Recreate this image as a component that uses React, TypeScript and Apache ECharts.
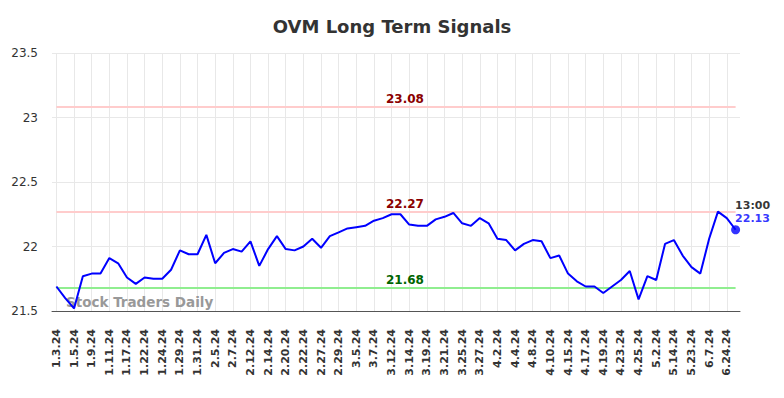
import React, { useEffect, useRef } from "react";
import * as echarts from "echarts";

const titleText = "OVM Long Term Signals";
const watermark = "Stock Traders Daily";

const dates: string[] = [
  "1.3.24", "1.4.24", "1.5.24", "1.8.24", "1.9.24", "1.10.24", "1.11.24", "1.16.24",
  "1.17.24", "1.18.24", "1.22.24", "1.23.24", "1.24.24", "1.26.24", "1.29.24", "1.30.24",
  "1.31.24", "2.1.24", "2.5.24", "2.6.24", "2.7.24", "2.9.24", "2.12.24", "2.13.24",
  "2.14.24", "2.16.24", "2.20.24", "2.21.24", "2.22.24", "2.26.24", "2.27.24", "2.28.24",
  "2.29.24", "3.4.24", "3.5.24", "3.6.24", "3.7.24", "3.11.24", "3.12.24", "3.13.24",
  "3.14.24", "3.18.24", "3.19.24", "3.20.24", "3.21.24", "3.22.24", "3.25.24", "3.26.24",
  "3.27.24", "4.1.24", "4.2.24", "4.3.24", "4.4.24", "4.5.24", "4.8.24", "4.9.24",
  "4.10.24", "4.12.24", "4.15.24", "4.16.24", "4.17.24", "4.18.24", "4.19.24", "4.22.24",
  "4.23.24", "4.24.24", "4.25.24", "4.29.24", "5.2.24", "5.9.24", "5.14.24", "5.17.24",
  "5.23.24", "5.30.24", "6.7.24", "6.14.24", "6.24.24", "6.25.24",
];

const prices: number[] = [
  21.69, 21.60, 21.52, 21.77, 21.79, 21.79, 21.91, 21.87,
  21.76, 21.71, 21.76, 21.75, 21.75, 21.82, 21.97, 21.94,
  21.94, 22.09, 21.87, 21.95, 21.98, 21.96, 22.04, 21.85,
  21.98, 22.08, 21.98, 21.97, 22.00, 22.06, 21.99, 22.08,
  22.11, 22.14, 22.15, 22.16, 22.20, 22.22, 22.25, 22.25,
  22.17, 22.16, 22.16, 22.21, 22.23, 22.26, 22.18, 22.16,
  22.22, 22.18, 22.06, 22.05, 21.97, 22.02, 22.05, 22.04,
  21.91, 21.93, 21.79, 21.73, 21.69, 21.69, 21.64, 21.69,
  21.74, 21.81, 21.59, 21.77, 21.74, 22.02, 22.05, 21.93,
  21.84, 21.79, 22.06, 22.27, 22.22, 22.13,
];

const resistanceLevels: number[] = [23.08, 22.27];
const supportLevels: number[] = [21.68];
const lastTime = "13:00";

const yMin = 21.5;
const yMax = 23.5;
const yStep = 0.5;

export default function App() {
  const ref = useRef<HTMLDivElement>(null);

  useEffect(() => {
    if (!ref.current) return;
    const chart = echarts.init(ref.current, undefined, { renderer: "svg" });
    const font = "DejaVu Sans";
    const lastIdx = prices.length - 1;

    const markData: any[] = [
      ...resistanceLevels.map((v) => ({
        yAxis: v,
        lineStyle: { color: "#ffcccc", width: 2, type: "solid" },
        label: { color: "#8b0000" },
      })),
      ...supportLevels.map((v) => ({
        yAxis: v,
        lineStyle: { color: "#90ee90", width: 2, type: "solid" },
        label: { color: "#006400" },
      })),
    ];

    chart.setOption({
      animation: false,
      backgroundColor: "#ffffff",
      title: {
        text: titleText,
        left: "center",
        top: 12,
        textStyle: { fontFamily: font, fontSize: 18, fontWeight: "bold", color: "#333333" },
      },
      graphic: [
        {
          type: "text",
          left: 66,
          top: 295,
          style: {
            text: watermark,
            fontFamily: font,
            fontSize: 13.5,
            fontWeight: "bold",
            fill: "#999999",
          },
          z: 1,
        },
      ],
      grid: [
        { left: 52, right: 44, top: 53, bottom: 87 },
        { left: 56.4, right: 48.4, top: 53, bottom: 87 },
      ],
      xAxis: [
        {
          gridIndex: 0,
          type: "value",
          min: 0,
          max: 1,
          axisLine: { show: true, onZero: false, lineStyle: { color: "#555555", width: 1 } },
          axisTick: { show: false },
          axisLabel: { show: false },
          splitLine: { show: false },
        },
        {
          gridIndex: 1,
          type: "category",
          boundaryGap: false,
          data: dates,
          axisLine: { show: false },
          axisTick: { show: false },
          axisLabel: {
            interval: 1,
            rotate: 90,
            margin: 18,
            fontFamily: font,
            fontSize: 11,
            fontWeight: "bold",
            color: "#333333",
          },
          splitLine: { show: true, interval: 1, lineStyle: { color: "#e8e8e8", width: 1 } },
        },
      ],
      yAxis: [
        {
          gridIndex: 0,
          type: "value",
          min: yMin,
          max: yMax,
          interval: yStep,
          axisLine: { show: false },
          axisTick: { show: false },
          axisLabel: { fontFamily: font, fontSize: 12, color: "#333333", margin: 14 },
          splitLine: { show: true, lineStyle: { color: "#e8e8e8", width: 1 } },
        },
        {
          gridIndex: 1,
          type: "value",
          min: yMin,
          max: yMax,
          interval: yStep,
          show: false,
          splitLine: { show: false },
        },
      ],
      series: [
        {
          type: "line",
          xAxisIndex: 1,
          yAxisIndex: 1,
          data: prices,
          showSymbol: false,
          lineStyle: { color: "#0000ff", width: 2 },
          itemStyle: { color: "#0000ff" },
          z: 3,
          markLine: {
            silent: true,
            symbol: "none",
            z: 2,
            label: {
              show: true,
              position: "insideMiddleTop",
              distance: 2,
              offset: [9, 0],
              fontFamily: font,
              fontSize: 12,
              fontWeight: "bold",
              formatter: (p: any) => String(p.value),
            },
            data: markData,
          },
        },
        {
          type: "scatter",
          xAxisIndex: 1,
          yAxisIndex: 1,
          symbol: "circle",
          symbolSize: 9,
          itemStyle: { color: "#0000ff" },
          z: 4,
          data: [[dates[lastIdx], prices[lastIdx]]],
          label: {
            show: true,
            position: [4, -26],
            align: "left",
            verticalAlign: "top",
            formatter: () => `{t|${lastTime}}\n{v|${prices[lastIdx].toFixed(2)}}`,
            rich: {
              t: { fontFamily: font, fontSize: 11, fontWeight: "bold", color: "#000000", lineHeight: 13 },
              v: { fontFamily: font, fontSize: 11, fontWeight: "bold", color: "#0000ff", lineHeight: 13 },
            },
          },
        },
      ],
    });

    return () => chart.dispose();
  }, []);

  return <div ref={ref} style={{ position: "fixed", left: 0, top: 0, width: 784, height: 398 }} />;
}
